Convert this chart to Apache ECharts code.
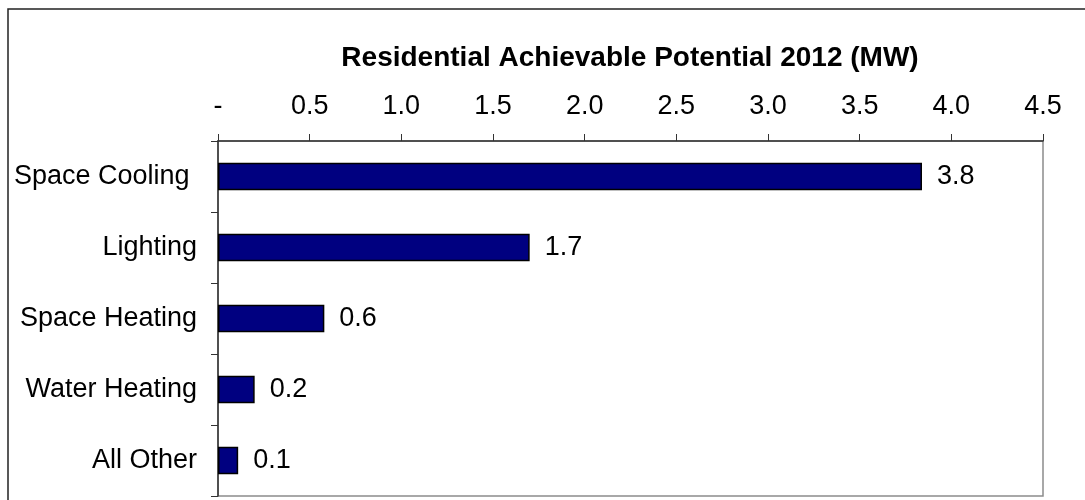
<!DOCTYPE html>
<html>
<head>
<meta charset="utf-8">
<script src="https://cdn.jsdelivr.net/npm/echarts@6/dist/echarts.min.js"></script>
<style>
  html, body { margin: 0; padding: 0; background: #fff; }
  #chart { width: 1085px; height: 500px; }
</style>
</head>
<body>
<div id="chart"></div>
<script>
// End uses and their achievable potential (MW)
const categories = ['Space Cooling ', 'Lighting', 'Space Heating', 'Water Heating', 'All Other'];
const potentialMW = [3.84, 1.70, 0.58, 0.20, 0.11];
const titleText = 'Residential Achievable Potential 2012 (MW)';
const axisMin = 0, axisMax = 4.5, axisStep = 0.5;

const FONT = "'Liberation Sans', Arial, sans-serif";
const chart = echarts.init(document.getElementById('chart'));

chart.setOption({
  animation: false,
  backgroundColor: '#ffffff',
  title: {
    text: titleText,
    left: 630,
    top: 44,
    padding: 0,
    textAlign: 'center',
    textStyle: { fontFamily: FONT, fontSize: 28, fontWeight: 'bold', color: '#000' }
  },
  graphic: [{
    type: 'rect',
    shape: { x: 8, y: 9, width: 1200, height: 700 },
    style: { fill: 'none', stroke: '#222', lineWidth: 1.5 },
    silent: true,
    z: -1
  }],
  grid: {
    left: 218, right: 42, top: 141, bottom: 4,
    show: true, borderColor: '#8c8c8c', borderWidth: 1.5, backgroundColor: 'transparent'
  },
  xAxis: {
    type: 'value',
    position: 'top',
    min: axisMin, max: axisMax, interval: axisStep,
    axisLine: { show: true, lineStyle: { color: '#333', width: 1.5 } },
    axisTick: { show: true, inside: false, length: 7, lineStyle: { color: '#333', width: 1 } },
    splitLine: { show: false },
    axisLabel: {
      margin: 21,
      fontFamily: FONT, fontSize: 27, color: '#000',
      showMaxLabel: true, showMinLabel: true,
      formatter: v => (v === 0 ? '-' : v.toFixed(1))
    }
  },
  yAxis: {
    type: 'category',
    data: categories,
    inverse: true,
    axisLine: { show: true, lineStyle: { color: '#333', width: 1.5 } },
    axisTick: { show: true, inside: false, length: 7, alignWithLabel: false, lineStyle: { color: '#333', width: 1 } },
    axisLabel: { margin: 21, fontFamily: FONT, fontSize: 27, color: '#000' }
  },
  series: [{
    type: 'bar',
    data: potentialMW,
    barWidth: '39%',
    itemStyle: { color: '#000080', borderColor: '#000', borderWidth: 1.5 },
    label: {
      show: true, position: 'right', distance: 15,
      fontFamily: FONT, fontSize: 27, color: '#000',
      formatter: p => p.value.toFixed(1)
    }
  }]
});
</script>
</body>
</html>
